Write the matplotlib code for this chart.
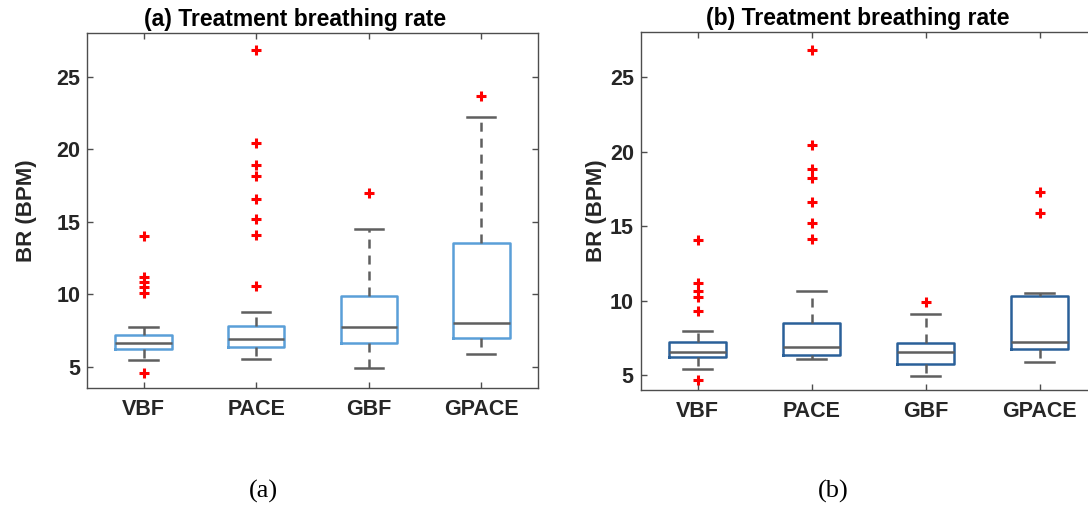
import matplotlib
matplotlib.use('Agg')
import matplotlib.pyplot as plt

plt.rcParams['font.family'] = ['Liberation Sans', 'DejaVu Sans']
plt.rcParams['lines.scale_dashes'] = False

groups = ['VBF', 'PACE', 'GBF', 'GPACE']

# (a) treatment breathing rate
a_q1 = [6.22, 6.38, 6.66, 6.96]
a_med = [6.61, 6.89, 7.72, 8.03]
a_q3 = [7.19, 7.83, 9.88, 13.55]
a_lo = [5.44, 5.51, 4.89, 5.88]
a_hi = [7.72, 8.75, 14.52, 22.2]
a_out = [[4.59, 10.1, 10.52, 10.86, 11.21, 14.01],
         [10.57, 14.08, 15.2, 16.54, 18.17, 18.91, 20.45, 26.84],
         [17.0],
         [23.67]]

# (b) treatment breathing rate
b_q1 = [6.23, 6.36, 5.76, 6.76]
b_med = [6.58, 6.9, 6.56, 7.21]
b_q3 = [7.23, 8.48, 7.18, 10.33]
b_lo = [5.42, 6.07, 4.91, 5.89]
b_hi = [7.99, 10.63, 9.13, 10.49]
b_out = [[4.64, 9.31, 10.22, 10.67, 11.16, 14.06],
         [14.13, 15.22, 16.61, 18.24, 18.82, 20.47, 26.84],
         [9.89],
         [15.89, 17.28]]

grey = '#5f5f5f'
ink = '#262626'


def make_stats(q1, med, q3, lo, hi, out):
    stats = []
    for i in range(len(groups)):
        stats.append({'q1': q1[i], 'med': med[i], 'q3': q3[i],
                      'whislo': lo[i], 'whishi': hi[i],
                      'fliers': out[i], 'label': groups[i]})
    return stats


def draw_panel(ax, stats, box_color, ylim, title, title_x, ypad):
    ax.bxp(stats, widths=0.5, capwidths=0.25, showfliers=True,
           boxprops=dict(color=box_color, linewidth=1.8),
           medianprops=dict(color=grey, linewidth=1.8),
           whiskerprops=dict(color=grey, linewidth=1.8, linestyle=(0, (6.5, 5))),
           capprops=dict(color=grey, linewidth=1.8),
           flierprops=dict(marker='+', markeredgecolor='red', markersize=7.5,
                           markeredgewidth=2.2, linestyle='none'))
    ax.set_xlim(0.5, 4.5)
    ax.set_ylim(*ylim)
    ax.set_yticks([5, 10, 15, 20, 25])
    ax.set_xticklabels(groups)
    ax.tick_params(direction='in', length=4, width=1, color='#4d4d4d',
                   top=True, right=True, labelsize=15.5, labelcolor=ink)
    ax.tick_params(axis='x', pad=8)
    ax.tick_params(axis='y', pad=5)
    for lab in ax.get_xticklabels() + ax.get_yticklabels():
        lab.set_fontweight('bold')
    for s in ax.spines.values():
        s.set_color('#4d4d4d')
        s.set_linewidth(1.0)
    ax.set_ylabel('BR (BPM)', fontsize=16, fontweight='bold', color=ink, labelpad=ypad)
    ax.set_title(title, fontsize=16.5, fontweight='bold', color='black',
                 x=title_x, pad=5)


fig = plt.figure(figsize=(10.88, 5.12), dpi=100)
ax1 = fig.add_axes([0.0802, 0.2416, 0.414, 0.6934])
ax2 = fig.add_axes([0.5889, 0.2383, 0.4191, 0.6986])

draw_panel(ax1, make_stats(a_q1, a_med, a_q3, a_lo, a_hi, a_out),
           '#5a9fd8', (3.5, 28), '(a) Treatment breathing rate', 0.461, 14)
draw_panel(ax2, make_stats(b_q1, b_med, b_q3, b_lo, b_hi, b_out),
           '#2a6099', (4.0, 28), '(b) Treatment breathing rate', 0.476, 2)

fig.text(263 / 1088, 1 - 491 / 512, '(a)', ha='center', va='center',
         fontsize=19, family='Liberation Serif')
fig.text(833 / 1088, 1 - 491 / 512, '(b)', ha='center', va='center',
         fontsize=19, family='Liberation Serif')

fig.savefig('out.png', dpi=100)
